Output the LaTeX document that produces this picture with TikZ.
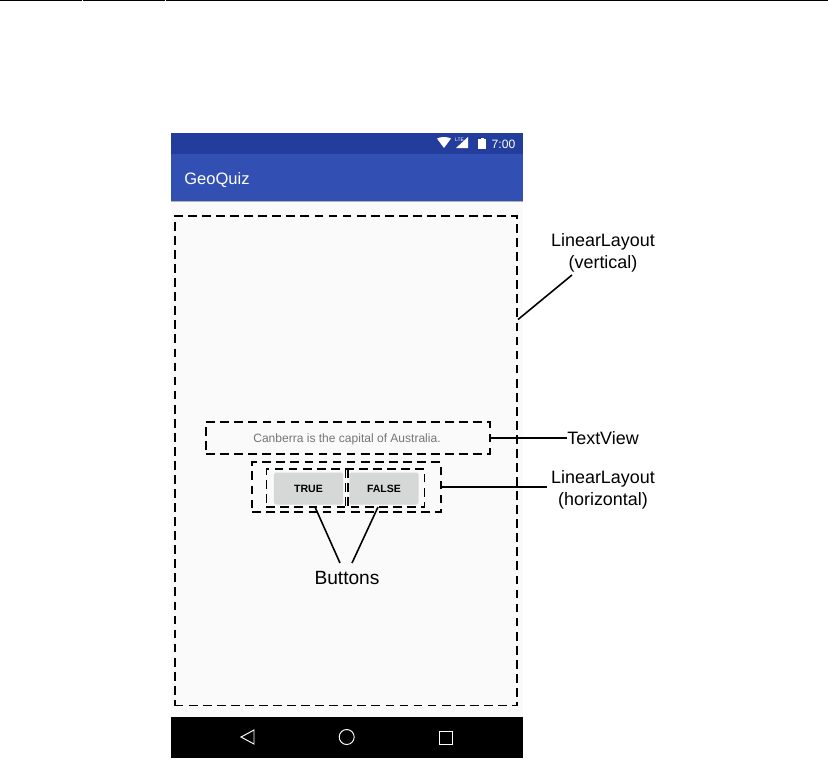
\documentclass[tikz,border=0pt]{standalone}
\usepackage{fontspec}
\setmainfont{Liberation Sans}
\definecolor{statusblue}{HTML}{233D9D}
\definecolor{barblue}{HTML}{3250B4}
\definecolor{bodygray}{HTML}{FAFAFA}
\definecolor{btngray}{HTML}{D6D7D7}
\definecolor{msggray}{HTML}{757575}
\tikzset{
  dashbox/.style={draw,inner sep=0pt,line width=.95pt,dash pattern=on 5pt off 3pt},
  callout/.style={inner sep=0pt,align=center,font=\fontsize{10.2}{12.6}\selectfont},
  lead/.style={line width=.9pt},
  btn/.style={fill=btngray,rounded corners=1pt,inner sep=0pt,minimum width=39.5pt,minimum height=18.2pt,font=\fontsize{6}{7}\selectfont\bfseries},
  navicon/.style={draw=white,line width=.55pt}
}
\begin{document}
\begin{tikzpicture}[x=.02cm,y=-.02cm]
\useasboundingbox (0,0) rectangle (828,762);
\fill[white] (0,0) rectangle (828,762);
% top rule
\fill (0,0) rectangle (828,1.4);
\foreach \s in {82,165}\fill[white] (\s,0) rectangle (\s+.8,1.4);
% phone
\fill[bodygray] (171,201) rectangle (522.5,717);
\fill[statusblue] (171,133) rectangle (522.5,154);
\fill[barblue] (171,154) rectangle (522.5,201);
\fill[black!30] (171,201) rectangle (522.5,202);
\fill (171,717) rectangle (522.5,758);
\node[white,inner sep=0pt,anchor=west,font=\fontsize{9.4}{11}\selectfont] (title) at (184,180){GeoQuiz};
\node[white,inner sep=0pt,font=\fontsize{6.9}{8}\selectfont] (clock) at (503.5,144){7:00};
\fill[white] (437,138.5) .. controls (441,136.5) and (447,136.5) .. (451,138.5)--(444,148)--cycle;
\fill[white] (456,148)--(468,148)--(468,137)--cycle;
\node[white,inner sep=0pt,font=\fontsize{2.8}{3}\selectfont] (lte) at (459.5,140){LTE};
\fill[white] (478,139) rectangle (486,149);
\fill[white] (480.5,137.5) rectangle (483.5,139);
% nav bar
\draw[navicon] (254,730)--(254,744)--(241,737)--cycle;
\draw[navicon] (346.7,737) circle (7.5);
\draw[navicon] (439,731) rectangle (452,744);
% layout boxes
\node[dashbox,minimum width=195pt,minimum height=278.6pt] (vertbox) at (346,460.8){};
\node[dashbox,minimum width=161.5pt,minimum height=18.1pt] (textbox) at (348,438){};
\node[inner sep=0pt,text=msggray,font=\fontsize{6.85}{7}\selectfont] (msg) at (347,439){Canberra is the capital of Australia.};
\node[dashbox,minimum width=107.2pt,minimum height=28.3pt] (horizbox) at (346.5,487){};
\node[dashbox,minimum width=90.1pt,minimum height=21.5pt] (innerbox) at (345.5,488){};
\node[btn] (truebtn) at (308.5,488.5){TRUE};
\node[btn] (falsebtn) at (384,488.5){FALSE};
\draw[dashbox,line width=.8pt] (345.6,469)--(345.6,507);
\draw[dashbox,line width=.8pt] (348,469)--(348,507);
% labels
\node[callout] (vertlabel) at (603,252.5){LinearLayout\\(vertical)};
\node[callout,anchor=west] (textlabel) at (567,438){TextView};
\node[callout] (horizlabel) at (603,489.5){LinearLayout\\(horizontal)};
\node[callout,font=\fontsize{10.9}{13}\selectfont] (btnlabel) at (347,578){Buttons};
\coordinate (vertend) at (518,319.5);
\coordinate (truefoot) at (315,507);
\coordinate (falsefoot) at (378,507);
\draw[lead] (vertend)--(572,275);
\draw[lead] (textbox.east)--(textlabel.west);
\draw[lead] (horizbox.east)--(547,487);
\draw[lead] (truefoot)--(340,563);
\draw[lead] (falsefoot)--(352,563);
\end{tikzpicture}
\end{document}
